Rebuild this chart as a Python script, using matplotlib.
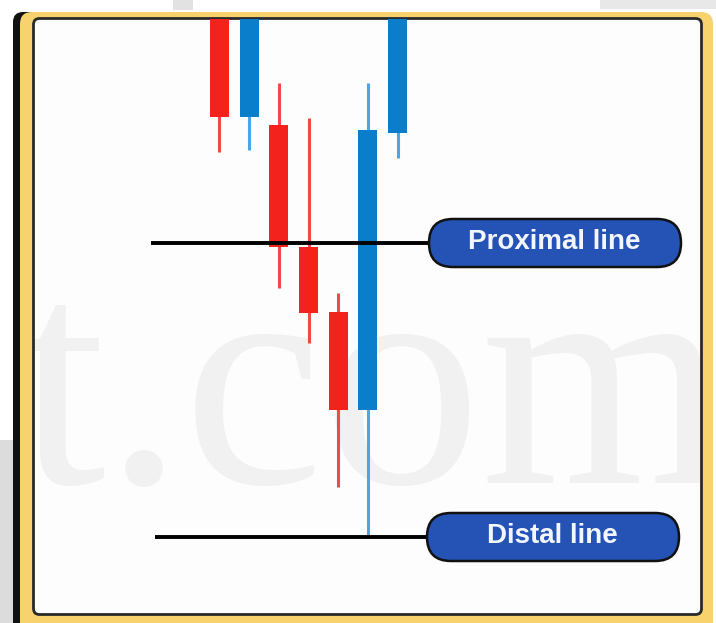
import matplotlib
matplotlib.use('Agg')
import matplotlib.pyplot as plt
from matplotlib import transforms
from matplotlib.patches import FancyBboxPatch, Rectangle

# candles, prices
candle_x = [0, 1, 2, 3, 4, 5, 6]
opens = [620, 496, 488, 366, 301, 203, 480]
closes = [496, 620, 366, 300, 203, 483, 630]
highs = [640, 640, 530, 495, 320, 530, 650]
lows = [461, 463, 325, 270, 126, 78, 455]

# zone lines
level_names = ['Proximal line', 'Distal line']
level_prices = [370, 76]
level_starts = [-2.31, -2.17]

RED, RED_WICK = '#f4221c', '#ee4a4a'
BLUE, BLUE_WICK = '#0b7ecb', '#4aa6e4'


def draw_frame(bg):
    """yellow rounded frame with dark shadow on the left"""
    bg.add_patch(Rectangle((0, 440), 13, 183, color='#dcdcdc', lw=0))
    bg.add_patch(Rectangle((173, 0), 20, 10, color='#e2e2e2', lw=0))
    bg.add_patch(Rectangle((600, 0), 116, 9, color='#e8e8e8', lw=0))
    bg.add_patch(FancyBboxPatch((13, 12), 60, 625, boxstyle='round,pad=0,rounding_size=10',
                                fc='#111111', ec='none'))
    bg.add_patch(FancyBboxPatch((20, 12), 693, 625, boxstyle='round,pad=0,rounding_size=12',
                                fc='#f8d26c', ec='none'))
    bg.add_patch(FancyBboxPatch((33.5, 18.5), 668, 596, boxstyle='round,pad=0,rounding_size=6',
                                fc='#fdfdfd', ec='#2a2a2a', lw=2))


def draw_watermark(ax):
    """faint site name behind the candles, cut at the frame"""
    mark = ax.text(-6.8, 130, 't.com', fontsize=227, family='Liberation Serif',
                   color='#f1f1f1', ha='left', va='baseline', zorder=0)
    mark.set_clip_on(True)
    mark.set_clip_box(ax.bbox)


def draw_candles(ax):
    """candles from the price lists"""
    for x, o, c, h, l in zip(candle_x, opens, closes, highs, lows):
        if c > o:
            body, wick = BLUE, BLUE_WICK
        else:
            body, wick = RED, RED_WICK
        ax.vlines(x, l, h, color=wick, lw=2.2, zorder=2)
        ax.bar(x, abs(c - o), bottom=min(o, c), width=0.64, color=body, zorder=3)


def draw_levels(ax, bg):
    """black lines with blue labels"""
    trans = transforms.blended_transform_factory(bg.transData, ax.transData)
    pill_left = [429, 427]
    for name, price, start, left in zip(level_names, level_prices, level_starts, pill_left):
        ax.hlines(price, start, 7.5, color='black', lw=2.8, zorder=4)
        ax.add_patch(FancyBboxPatch((left, price - 24), 252, 48,
                                    boxstyle='round,pad=0,rounding_size=24',
                                    fc='#2553b5', ec='#111111', lw=1.8,
                                    transform=trans, zorder=5, clip_on=False))
        ax.text(left + 125, price + 1, name, transform=trans, ha='center', va='center',
                color='#f4f6ff', fontsize=20, fontweight='bold',
                family='Liberation Sans', zorder=6)


fig = plt.figure(figsize=(7.16, 6.23), dpi=100)
bg = fig.add_axes([0, 0, 1, 1])
bg.set_xlim(0, 716)
bg.set_ylim(623, 0)
bg.axis('off')
draw_frame(bg)

ax = fig.add_axes([35 / 716, 10 / 623, 665 / 716, 594 / 623])
ax.set_xlim(-6.218, 16.195)
ax.set_ylim(0, 594)
ax.axis('off')
draw_watermark(ax)
draw_candles(ax)
draw_levels(ax, bg)

fig.savefig('out.png', dpi=100)
